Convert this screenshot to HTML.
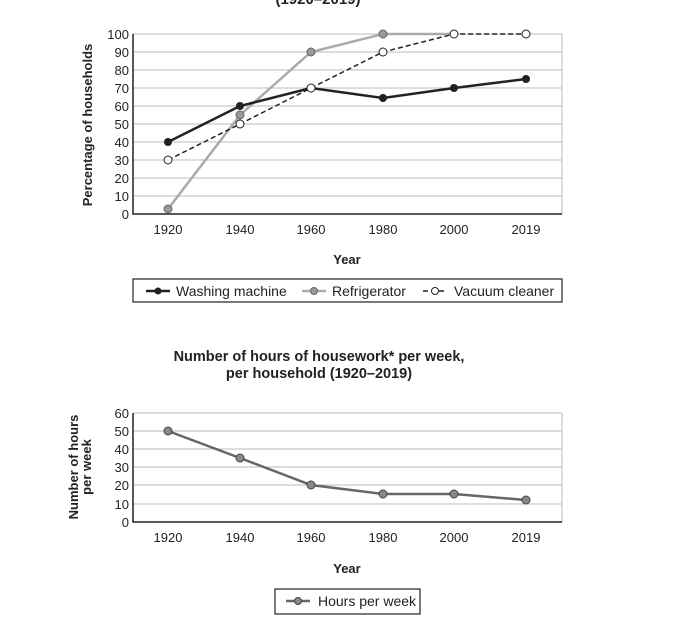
<!DOCTYPE html>
<html><head><style>body{margin:0;background:#fff}svg{display:block}text{font-family:"Liberation Sans",sans-serif;fill:#222}</style></head><body>
<svg width="699" height="620" viewBox="0 0 699 620">
<text x="318" y="4" font-size="15" font-weight="bold" text-anchor="middle">(1920–2019)</text>
<g stroke="#bbb" stroke-width="1">
<line x1="133" y1="34" x2="562" y2="34"/><line x1="133" y1="52" x2="562" y2="52"/><line x1="133" y1="70" x2="562" y2="70"/><line x1="133" y1="88" x2="562" y2="88"/><line x1="133" y1="106" x2="562" y2="106"/><line x1="133" y1="124" x2="562" y2="124"/><line x1="133" y1="142" x2="562" y2="142"/><line x1="133" y1="160" x2="562" y2="160"/><line x1="133" y1="178" x2="562" y2="178"/><line x1="133" y1="196" x2="562" y2="196"/>
<line x1="562" y1="34" x2="562" y2="214"/>
</g>
<path d="M133 34V214H562" fill="none" stroke="#222" stroke-width="1.5"/>
<g font-size="13" text-anchor="end">
<text x="129" y="39">100</text><text x="129" y="57">90</text><text x="129" y="75">80</text><text x="129" y="93">70</text><text x="129" y="111">60</text><text x="129" y="129">50</text><text x="129" y="147">40</text><text x="129" y="165">30</text><text x="129" y="183">20</text><text x="129" y="201">10</text><text x="129" y="219">0</text>
</g>
<g font-size="13" text-anchor="middle">
<text x="168" y="234">1920</text><text x="240" y="234">1940</text><text x="311" y="234">1960</text><text x="383" y="234">1980</text><text x="454" y="234">2000</text><text x="526" y="234">2019</text>
<text x="347" y="264" font-weight="bold">Year</text>
</g>
<text transform="translate(92,125) rotate(-90)" font-size="13" font-weight="bold" text-anchor="middle">Percentage of households</text>
<polyline points="168,209 240,115 311,52 383,34 454,34" fill="none" stroke="#aaa" stroke-width="2.5"/>
<polyline points="168,160 240,124 311,88 383,52 454,34 526,34" fill="none" stroke="#222" stroke-width="1.5" stroke-dasharray="5,3"/>
<polyline points="168,142 240,106 311,88 383,98 454,88 526,79" fill="none" stroke="#222" stroke-width="2.5"/>
<g fill="#999" stroke="#666"><circle cx="168" cy="209" r="4"/><circle cx="240" cy="115" r="4"/><circle cx="311" cy="52" r="4"/><circle cx="383" cy="34" r="4"/></g>
<g fill="#fff" stroke="#222"><circle cx="168" cy="160" r="4"/><circle cx="240" cy="124" r="4"/><circle cx="311" cy="88" r="4"/><circle cx="383" cy="52" r="4"/><circle cx="454" cy="34" r="4"/><circle cx="526" cy="34" r="4"/></g>
<g fill="#222"><circle cx="168" cy="142" r="4"/><circle cx="240" cy="106" r="4"/><circle cx="383" cy="98" r="4"/><circle cx="454" cy="88" r="4"/><circle cx="526" cy="79" r="4"/></g>
<rect x="133" y="279" width="429" height="23" fill="none" stroke="#222" stroke-width="1.2"/>
<line x1="146" y1="291" x2="170" y2="291" stroke="#222" stroke-width="2.5"/><circle cx="158" cy="291" r="3.5" fill="#222"/>
<text x="176" y="296" font-size="14">Washing machine</text>
<line x1="302" y1="291" x2="326" y2="291" stroke="#aaa" stroke-width="2.5"/><circle cx="314" cy="291" r="3.5" fill="#999" stroke="#666"/>
<text x="332" y="296" font-size="14">Refrigerator</text>
<line x1="423" y1="291" x2="447" y2="291" stroke="#222" stroke-width="1.5" stroke-dasharray="5,3"/><circle cx="435" cy="291" r="3.5" fill="#fff" stroke="#222"/>
<text x="454" y="296" font-size="14">Vacuum cleaner</text>

<text x="319" y="361" font-size="14.5" font-weight="bold" text-anchor="middle">Number of hours of housework* per week,</text>
<text x="319" y="378" font-size="14.5" font-weight="bold" text-anchor="middle">per household (1920–2019)</text>
<g stroke="#bbb"><line x1="133" y1="413" x2="562" y2="413"/><line x1="133" y1="431" x2="562" y2="431"/><line x1="133" y1="449" x2="562" y2="449"/><line x1="133" y1="467" x2="562" y2="467"/><line x1="133" y1="485" x2="562" y2="485"/><line x1="133" y1="504" x2="562" y2="504"/><line x1="562" y1="413" x2="562" y2="522"/></g>
<path d="M133 413V522H562" fill="none" stroke="#222" stroke-width="1.5"/>
<g font-size="13" text-anchor="end">
<text x="129" y="418">60</text><text x="129" y="436">50</text><text x="129" y="454">40</text><text x="129" y="472">30</text><text x="129" y="490">20</text><text x="129" y="509">10</text><text x="129" y="527">0</text>
</g>
<g font-size="13" text-anchor="middle">
<text x="168" y="542">1920</text><text x="240" y="542">1940</text><text x="311" y="542">1960</text><text x="383" y="542">1980</text><text x="454" y="542">2000</text><text x="526" y="542">2019</text>
<text x="347" y="573" font-weight="bold">Year</text>
</g>
<text transform="translate(78,467) rotate(-90)" font-size="13" font-weight="bold" text-anchor="middle">Number of hours</text>
<text transform="translate(91,467) rotate(-90)" font-size="13" font-weight="bold" text-anchor="middle">per week</text>
<polyline points="168,431 240,458 311,485 383,494 454,494 526,500" fill="none" stroke="#666" stroke-width="2.5"/>
<g fill="#888" stroke="#444"><circle cx="168" cy="431" r="4"/><circle cx="240" cy="458" r="4"/><circle cx="311" cy="485" r="4"/><circle cx="383" cy="494" r="4"/><circle cx="454" cy="494" r="4"/><circle cx="526" cy="500" r="4"/></g>
<rect x="275" y="589" width="145" height="25" fill="none" stroke="#222" stroke-width="1.2"/>
<line x1="286" y1="601" x2="310" y2="601" stroke="#666" stroke-width="2.5"/><circle cx="298" cy="601" r="3.5" fill="#888" stroke="#444"/>
<text x="318" y="606" font-size="14">Hours per week</text>
</svg>
</body></html>
